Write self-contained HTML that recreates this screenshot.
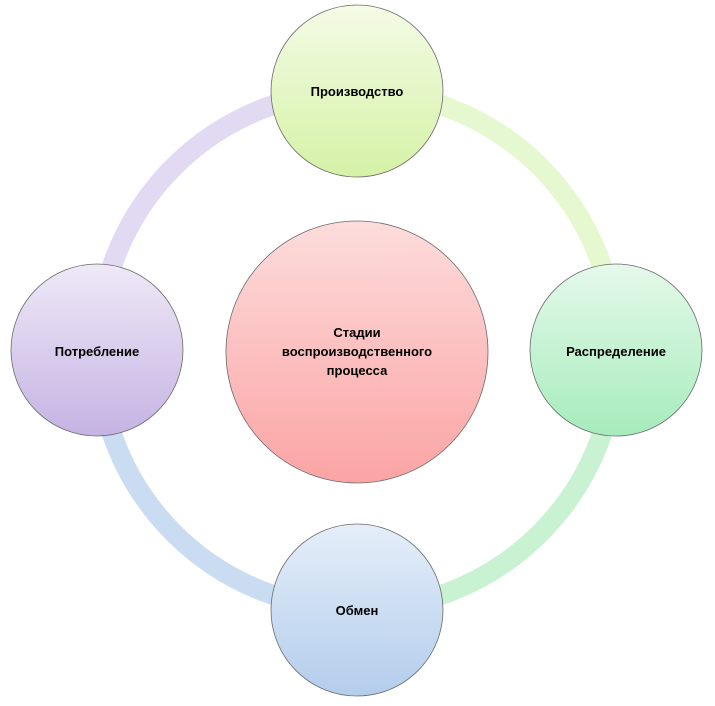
<!DOCTYPE html>
<html><head><meta charset="utf-8"><style>
html,body{margin:0;padding:0;background:#fff;width:715px;height:706px;overflow:hidden}
svg text{font-family:"Liberation Sans",sans-serif;font-weight:bold;font-size:13px;fill:#000}
</style></head><body>
<svg width="715" height="706" viewBox="0 0 715 706" xmlns="http://www.w3.org/2000/svg">
<defs>
<linearGradient id="gtop" x1="0" y1="0" x2="0" y2="1"><stop offset="0" stop-color="#f4fbe6"/><stop offset="1" stop-color="#d5f2a6"/></linearGradient>
<linearGradient id="gright" x1="0" y1="0" x2="0" y2="1"><stop offset="0" stop-color="#e5f9ea"/><stop offset="1" stop-color="#a6ecbc"/></linearGradient>
<linearGradient id="gbot" x1="0" y1="0" x2="0" y2="1"><stop offset="0" stop-color="#e5eef9"/><stop offset="1" stop-color="#b3cdec"/></linearGradient>
<linearGradient id="gleft" x1="0" y1="0" x2="0" y2="1"><stop offset="0" stop-color="#efe9f7"/><stop offset="1" stop-color="#c5b3e3"/></linearGradient>
<linearGradient id="gcen" x1="0" y1="0" x2="0" y2="1"><stop offset="0" stop-color="#fddcdc"/><stop offset="1" stop-color="#fba4a4"/></linearGradient>
</defs>
<g fill="none" stroke-width="20">
<path d="M357 91 A259 259 0 0 1 616 350" stroke="#e6f8cf"/>
<path d="M616 350 A259 259 0 0 1 357 609" stroke="#c8f2d2"/>
<path d="M357 609 A259 259 0 0 1 98 350" stroke="#c9dcf1"/>
<path d="M98 350 A259 259 0 0 1 357 91" stroke="#e2d9f2"/>
</g>
<g stroke="#6a6a6a" stroke-width="0.8">
<circle cx="357" cy="352" r="131" fill="url(#gcen)"/>
<circle cx="357" cy="91" r="86" fill="url(#gtop)"/>
<circle cx="616" cy="350" r="86" fill="url(#gright)"/>
<circle cx="357" cy="610" r="86" fill="url(#gbot)"/>
<circle cx="97" cy="350" r="86" fill="url(#gleft)"/>
</g>
<g text-anchor="middle">
<text x="357" y="96">Производство</text>
<text x="616" y="356">Распределение</text>
<text x="357" y="615">Обмен</text>
<text x="97" y="356">Потребление</text>
<text x="357" y="337">Стадии</text>
<text x="357" y="356">воспроизводственного</text>
<text x="357" y="375">процесса</text>
</g>
</svg>
</body></html>
